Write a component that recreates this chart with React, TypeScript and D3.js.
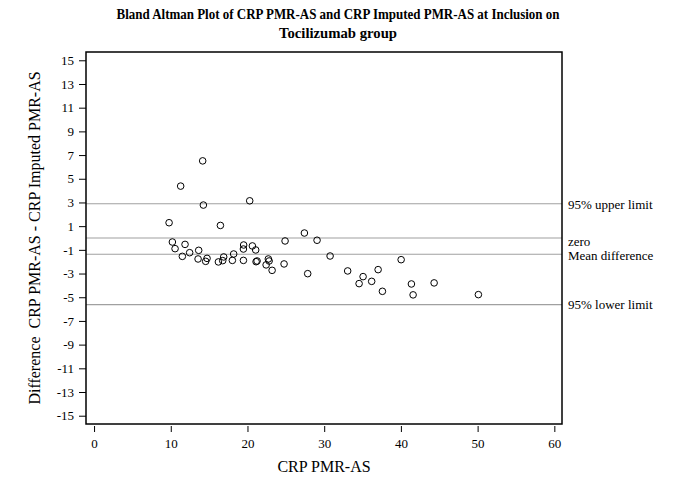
import { useEffect, useRef } from 'react';
import * as d3 from 'd3';

// plot frame in page pixels
const frame = { left: 86, top: 52, right: 562, bottom: 424 }
const width = 673
const height = 478

const font = '"Liberation Serif", "Times New Roman", serif'

// CRP PMR-AS (x) and difference (y)
const crpPmrAs = [
  14.16, 11.29, 14.25, 20.29, 9.78, 16.47, 27.42, 24.9, 29.07, 10.21,
  11.86, 10.56, 13.64, 12.46, 11.51, 13.56, 14.73, 14.55, 16.21, 16.9,
  16.77, 18.03, 18.2, 19.5, 20.64, 19.47, 21.07, 19.47, 21.12, 21.25,
  22.72, 22.82, 22.43, 24.77, 23.21, 27.85, 30.77, 33.06, 40.03, 37.03,
  35.07, 34.55, 36.19, 37.59, 41.37, 41.59, 44.33, 50.1,
]
const difference = [
  6.51, 4.38, 2.78, 3.14, 1.29, 1.06, 0.42, -0.25, -0.19, -0.34,
  -0.54, -0.9, -1.04, -1.24, -1.55, -1.77, -1.72, -1.97, -2.02, -1.6,
  -1.91, -1.89, -1.35, -0.59, -0.67, -0.93, -1.01, -1.89, -2.0, -1.94,
  -1.77, -1.94, -2.27, -2.19, -2.73, -3.01, -1.52, -2.78, -1.83, -2.67,
  -3.26, -3.85, -3.66, -4.5, -3.88, -4.8, -3.79, -4.78,
]

const refValues = [2.89, 0, -1.37, -5.63]
const refLabels = ['95% upper limit', 'zero', 'Mean difference', '95% lower limit']
const refLabelShift = [1, 3, 1.5, 0]

const xTicks = [0, 10, 20, 30, 40, 50, 60]
const yTicks = d3.range(-15, 16, 2)

const BlandAltman = () => {
  const d3svg = useRef(null)

  useEffect(() => {
    if (!d3svg.current) return
    const svg = d3.select(d3svg.current)
    svg.selectAll('*').remove()

    const xScale = d3.scaleLinear().domain([-1.05, 61.0]).range([frame.left, frame.right])
    const yScale = d3.scaleLinear().domain([-15.7, 15.7]).range([frame.bottom, frame.top])

    // title (squeezed a bit, the original font is narrower)
    const title = svg.append('text')
      .attr('text-anchor', 'middle')
      .style('font-family', font)
      .style('font-weight', 'bold')
      .style('font-size', '14.5px')
    title.append('tspan').attr('x', 338).attr('y', 19)
      .attr('textLength', 443).attr('lengthAdjust', 'spacingAndGlyphs')
      .text('Bland Altman Plot of CRP PMR-AS and CRP Imputed PMR-AS at Inclusion on')
    title.append('tspan').attr('x', 338).attr('y', 38)
      .attr('textLength', 118).attr('lengthAdjust', 'spacingAndGlyphs')
      .text('Tocilizumab group')

    // reference lines
    svg.selectAll('.ref')
      .data(refValues)
      .enter()
      .append('line')
      .attr('x1', frame.left)
      .attr('x2', frame.right)
      .attr('y1', d => yScale(d))
      .attr('y2', d => yScale(d))
      .attr('stroke', '#a0a0a0')
      .attr('stroke-width', 1.2)

    svg.selectAll('.ref-label')
      .data(refLabels)
      .enter()
      .append('text')
      .attr('x', frame.right + 6)
      .attr('y', (d, i) => yScale(refValues[i]) + refLabelShift[i])
      .attr('dominant-baseline', 'central')
      .style('font-family', font)
      .style('font-size', '13px')
      .text(d => d)

    // points
    svg.selectAll('.pt')
      .data(crpPmrAs)
      .enter()
      .append('circle')
      .attr('cx', d => xScale(d))
      .attr('cy', (d, i) => yScale(difference[i]))
      .attr('r', 3.3)
      .attr('fill', 'none')
      .attr('stroke', '#000')
      .attr('stroke-width', 1)

    // frame
    svg.append('rect')
      .attr('x', frame.left)
      .attr('y', frame.top)
      .attr('width', frame.right - frame.left)
      .attr('height', frame.bottom - frame.top)
      .attr('fill', 'none')
      .attr('stroke', '#000')
      .attr('stroke-width', 1.5)

    // y axis
    const yAxis = d3.axisLeft(yScale).tickValues(yTicks).tickSize(7).tickPadding(5).tickFormat(d => String(d))
    const yg = svg.append('g').attr('transform', `translate(${frame.left},0)`).call(yAxis)
    yg.select('.domain').remove()
    yg.selectAll('text').style('font-family', font).style('font-size', '13px').attr('fill', '#000')

    // x axis, sitting just under the frame
    const xAxis = d3.axisBottom(xScale).tickValues(xTicks).tickSize(6).tickPadding(7).tickFormat(d => String(d))
    const xg = svg.append('g').attr('transform', `translate(0,${frame.bottom + 2})`).call(xAxis)
    xg.select('.domain').remove()
    xg.selectAll('text').style('font-family', font).style('font-size', '13px').attr('fill', '#000')

    // axis titles
    svg.append('text')
      .attr('x', 324)
      .attr('y', 472)
      .attr('text-anchor', 'middle')
      .style('font-family', font)
      .style('font-size', '16px')
      .text('CRP PMR-AS')

    svg.append('text')
      .attr('transform', `translate(40,${(frame.top + frame.bottom) / 2}) rotate(-90)`)
      .attr('text-anchor', 'middle')
      .style('font-family', font)
      .style('font-size', '16px')
      .style('white-space', 'pre')
      .text('Difference  CRP PMR-AS - CRP Imputed PMR-AS')
  }, [])

  return (
    <svg
      width={width}
      height={height}
      ref={d3svg}
      style={{ position: 'absolute', left: 0, top: 0, background: '#fff' }}
    ></svg>
  )
}

export default function App() {
  return <BlandAltman />
}
